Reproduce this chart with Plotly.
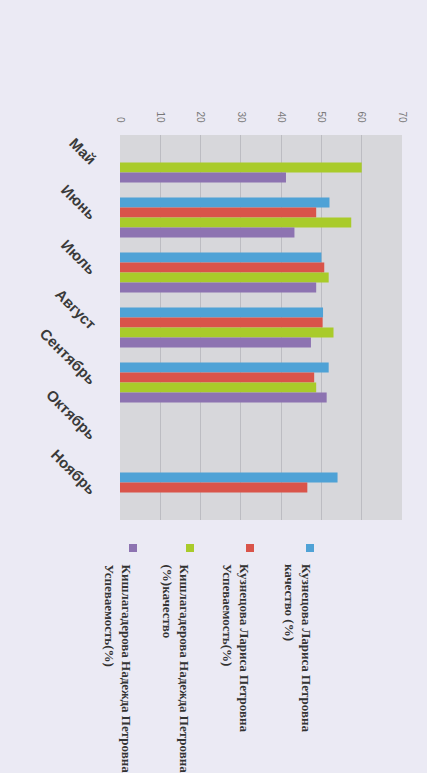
import plotly.graph_objects as go

months = ["Май", "Июнь", "Июль", "Август", "Сентябрь", "Октябрь", "Ноябрь"]
series_names = [
    "Кузнецова Лариса Петровна<br>качество (%)",
    "Кузнецова Лариса Петровна<br>Успеваемость(%)",
    "Кишлагадерова Надежда Петровна<br>(%)качество",
    "Кишлагадерова Надежда Петровна<br>Успеваемость(%)",
]
blue_vals = [None, 52, 50, 50.4, 51.8, None, 54]
red_vals = [None, 48.7, 50.7, 50.3, 48.2, None, 46.5]
green_vals = [60, 57.4, 51.8, 53, 48.7, None, None]
purple_vals = [41.2, 43.3, 48.7, 47.4, 51.3, None, None]
tick_vals = [0, 10, 20, 30, 40, 50, 60, 70]

colors = ["#4fa2d6", "#d9544a", "#a9cb2a", "#8d73b1"]
all_vals = [blue_vals, red_vals, green_vals, purple_vals]

fig = go.Figure()
for name, vals, c in zip(series_names, all_vals, colors):
    fig.add_trace(go.Bar(y=months, x=vals, orientation="h", name=name,
                         marker=dict(color=c, line=dict(width=0))))

W, H = 427, 773
L, R, T, B = 120, 25, 135, 253
pw = W - L - R
ph = H - T - B

def px2x(px):
    return (px - L) / pw

def py2y(py):
    return (H - B - py) / ph

fig.update_layout(
    width=W, height=H,
    margin=dict(l=L, r=R, t=T, b=B),
    paper_bgcolor="#ebeaf4",
    plot_bgcolor="#d7d7db",
    showlegend=False,
    barmode="group", bargap=0.27, bargroupgap=0,
    xaxis=dict(range=[0, 70], side="top", tickvals=tick_vals,
               ticktext=[str(v) for v in tick_vals], tickangle=90,
               ticklabelstandoff=10,
               tickfont=dict(family="Liberation Sans", size=10, color="#777777"),
               showgrid=True, gridcolor="#bcbcc2", gridwidth=1, zeroline=False,
               showline=False),
    yaxis=dict(autorange="reversed", tickangle=45, ticklabelstandoff=24,
               tickfont=dict(family="Liberation Sans", size=15, color="#3a3a3a", weight=700),
               showgrid=False, showline=False),
)

legend_x_centers = [298, 236, 176, 118]
square_x = [310, 250, 190, 133]
for name, c, xc, sx in zip(series_names, colors, legend_x_centers, square_x):
    fig.add_shape(type="rect", xref="paper", yref="paper",
                  x0=px2x(sx - 4), x1=px2x(sx + 4),
                  y0=py2y(552), y1=py2y(544),
                  fillcolor=c, line=dict(width=0))
    fig.add_annotation(text=name, xref="paper", yref="paper",
                       x=px2x(xc), y=py2y(562), xanchor="center", yanchor="top",
                       textangle=90, showarrow=False, align="left",
                       font=dict(family="Liberation Serif", size=13, color="#333333", weight=700))

fig.write_html("out.html")
